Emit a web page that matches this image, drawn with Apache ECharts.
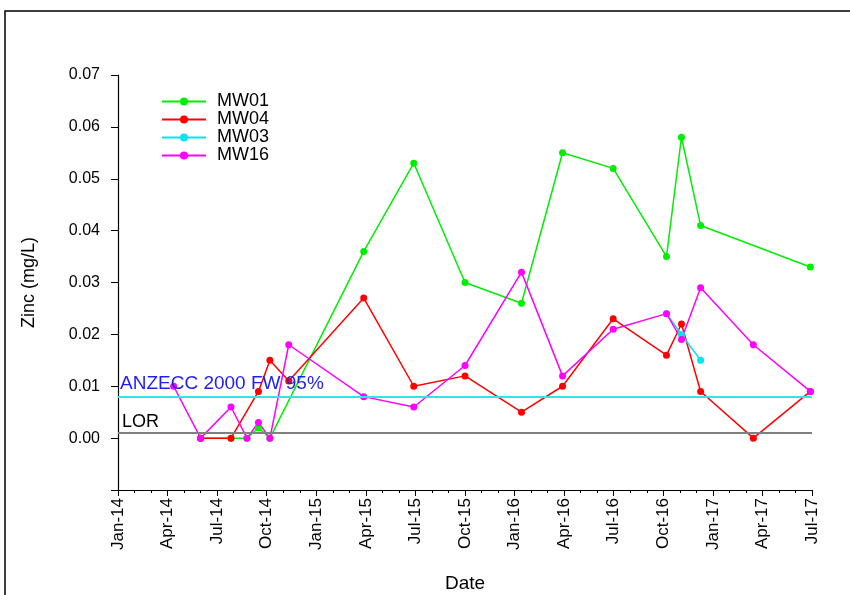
<!DOCTYPE html>
<html>
<head>
<meta charset="utf-8">
<script src="https://cdn.jsdelivr.net/npm/echarts@6/dist/echarts.min.js"></script>
<style>
  html, body { margin: 0; padding: 0; background: #fff; }
  #chart { width: 850px; height: 595px; }
</style>
</head>
<body>
<div id="chart"></div>
<script>
// Zinc concentrations (mg/L) by monitoring well and sampling date
const mw01Dates = ['2014-06-01', '2014-07-27', '2014-08-26', '2014-09-16', '2014-10-07', '2015-03-28', '2015-06-28', '2015-10-01', '2016-01-14', '2016-03-29', '2016-06-30', '2016-10-07', '2016-11-04', '2016-12-09', '2017-06-28'];
const mw01Values = [0, 0, 0, 0.002, 0, 0.036, 0.053, 0.030, 0.026, 0.055, 0.052, 0.035, 0.058, 0.041, 0.033];

const mw04Dates = ['2014-06-01', '2014-07-27', '2014-09-16', '2014-10-07', '2014-11-11', '2015-03-28', '2015-06-28', '2015-10-01', '2016-01-14', '2016-03-29', '2016-06-30', '2016-10-07', '2016-11-04', '2016-12-09', '2017-03-15', '2017-06-28'];
const mw04Values = [0, 0, 0.009, 0.015, 0.011, 0.027, 0.010, 0.012, 0.005, 0.010, 0.023, 0.016, 0.022, 0.009, 0, 0.009];

const mw03Dates = ['2016-10-07', '2016-11-04', '2016-12-09'];
const mw03Values = [0.024, 0.020, 0.015];

const mw16Dates = ['2014-04-12', '2014-06-01', '2014-07-27', '2014-08-26', '2014-09-16', '2014-10-07', '2014-11-11', '2015-03-28', '2015-06-28', '2015-10-01', '2016-01-14', '2016-03-29', '2016-06-30', '2016-10-07', '2016-11-04', '2016-12-09', '2017-03-15', '2017-06-28'];
const mw16Values = [0.010, 0, 0.006, 0, 0.003, 0, 0.018, 0.008, 0.006, 0.014, 0.032, 0.012, 0.021, 0.024, 0.019, 0.029, 0.018, 0.009];

// Reference levels (mg/L)
const anzeccLevel = 0.008;
const lorLevel = 0.001;

// Date axis tick labels, one every three months from Jan 2014
const xTickLabels = ['Jan-14', 'Apr-14', 'Jul-14', 'Oct-14', 'Jan-15', 'Apr-15', 'Jul-15', 'Oct-15', 'Jan-16', 'Apr-16', 'Jul-16', 'Oct-16', 'Jan-17', 'Apr-17', 'Jul-17'];

// Convert an ISO date to fractional months elapsed since 1 Jan 2014
function monthIndex(iso) {
  const [y, m, d] = iso.split('-').map(Number);
  const daysInMonth = new Date(y, m, 0).getDate();
  return (y - 2014) * 12 + (m - 1) + (d - 1) / daysInMonth;
}
function pairs(dates, values) {
  return dates.map((d, i) => [monthIndex(d), values[i]]);
}

const FONT = 'Liberation Sans, Arial, sans-serif';

function wellSeries(name, color, dates, values) {
  return {
    name: name,
    type: 'line',
    data: pairs(dates, values),
    symbol: 'circle',
    symbolSize: 7,
    lineStyle: { color: color, width: 1.5 },
    itemStyle: { color: color },
    emphasis: { disabled: true },
    animation: false
  };
}

const chart = echarts.init(document.getElementById('chart'), null, { renderer: 'canvas' });

chart.setOption({
  backgroundColor: '#ffffff',
  animation: false,
  graphic: [{
    type: 'rect',
    shape: { x: 5, y: 11, width: 900, height: 700 },
    style: { fill: 'none', stroke: '#000', lineWidth: 1.5 },
    silent: true
  }],
  grid: { left: 118, right: 38, top: 75, bottom: 105, containLabel: false, outerBoundsMode: 'none' },
  legend: {
    data: ['MW01', 'MW04', 'MW03', 'MW16'],
    orient: 'vertical',
    left: 161,
    top: 92.5,
    padding: 0,
    itemWidth: 44,
    itemHeight: 10,
    itemGap: 0,
    textStyle: { fontFamily: FONT, fontSize: 18, lineHeight: 17.3, color: '#000', padding: [0, 0, 0, 6] },
    selectedMode: false
  },
  xAxis: {
    type: 'value',
    min: 0,
    max: 42,
    interval: 3,
    name: 'Date',
    nameLocation: 'middle',
    nameGap: 84,
    nameTextStyle: { fontFamily: FONT, fontSize: 19, color: '#000' },
    axisLine: { show: true, onZero: false, lineStyle: { color: '#000', width: 1.2 } },
    axisTick: { show: true, inside: false, length: 6, lineStyle: { color: '#000' } },
    minorTick: { show: true, splitNumber: 3, length: 3, lineStyle: { color: '#000' } },
    splitLine: { show: false },
    axisLabel: {
      rotate: 90,
      margin: 8,
      fontFamily: FONT,
      fontSize: 17,
      color: '#000',
      formatter: v => xTickLabels[Math.round(v / 3)] || ''
    }
  },
  yAxis: {
    type: 'value',
    min: -0.01,
    max: 0.07,
    interval: 0.01,
    name: 'Zinc (mg/L)',
    nameLocation: 'middle',
    nameGap: 80,
    nameRotate: 90,
    nameTextStyle: { fontFamily: FONT, fontSize: 18, color: '#000' },
    axisLine: { show: true, onZero: false, lineStyle: { color: '#000', width: 1.2 } },
    axisTick: { show: true, inside: false, length: 7, lineStyle: { color: '#000' } },
    splitLine: { show: false },
    axisLabel: {
      margin: 18,
      fontFamily: FONT,
      fontSize: 16,
      color: '#000',
      formatter: v => (v < -1e-9 ? '' : v.toFixed(2))
    }
  },
  series: [
    {
      name: 'guidelines',
      type: 'line',
      data: [],
      silent: true,
      markLine: {
        silent: true,
        symbol: 'none',
        precision: 4,
        animation: false,
        data: [
          {
            yAxis: anzeccLevel,
            lineStyle: { color: '#2ee6e6', width: 2, type: 'solid' },
            label: {
              show: true,
              position: 'insideStartTop',
              formatter: 'ANZECC 2000 FW 95%',
              fontFamily: FONT,
              fontSize: 19,
              color: '#1f1fee',
              distance: [2, 3]
            }
          },
          {
            yAxis: lorLevel,
            lineStyle: { color: '#808080', width: 2, type: 'solid' },
            label: {
              show: true,
              position: 'insideStartTop',
              formatter: 'LOR',
              fontFamily: FONT,
              fontSize: 18,
              color: '#000',
              distance: [4, 2]
            }
          }
        ]
      }
    },
    wellSeries('MW01', '#00ee00', mw01Dates, mw01Values),
    wellSeries('MW04', '#ff0000', mw04Dates, mw04Values),
    wellSeries('MW03', '#00e5ee', mw03Dates, mw03Values),
    wellSeries('MW16', '#ff00ff', mw16Dates, mw16Values)
  ]
});
</script>
</body>
</html>
